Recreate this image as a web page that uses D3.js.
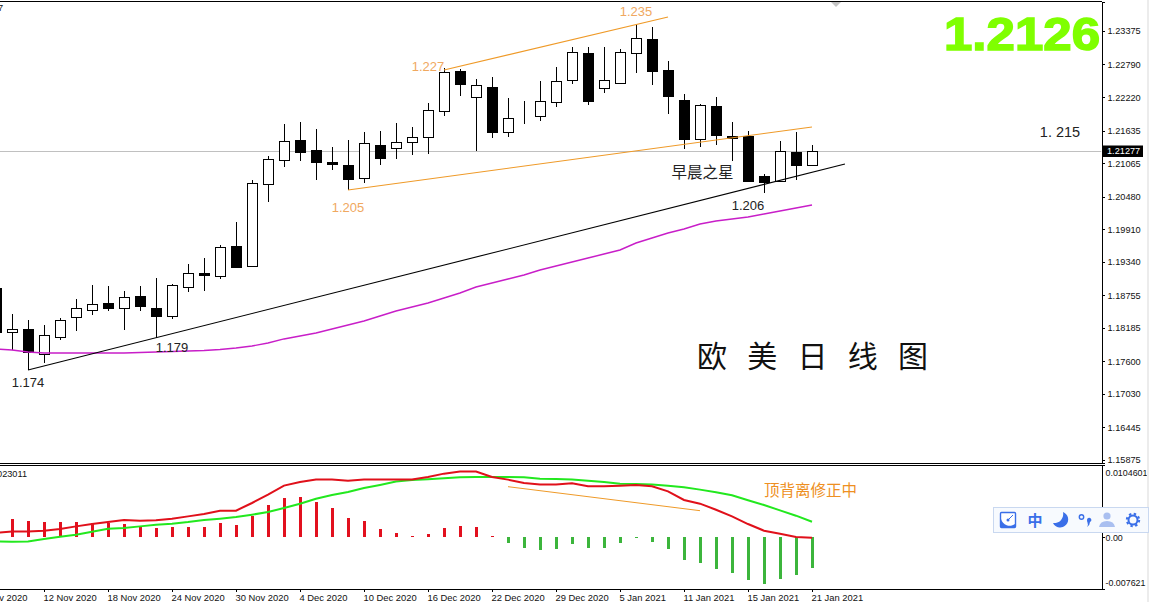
<!DOCTYPE html>
<html><head><meta charset="utf-8">
<script src="https://cdn.jsdelivr.net/npm/d3@7/dist/d3.min.js"></script>
<style>
html,body{margin:0;padding:0;background:#fff;overflow:hidden}
svg{display:block}
text{font-family:"Liberation Sans",Arial,sans-serif}
.cjk{font-family:"Noto Sans CJK SC","Noto Sans",sans-serif}
</style></head><body><svg id="c" width="1149" height="602"></svg>
<script>
const dates=["6 Nov 2020","9 Nov 2020","10 Nov 2020","11 Nov 2020","12 Nov 2020","13 Nov 2020","16 Nov 2020","17 Nov 2020","18 Nov 2020","19 Nov 2020","20 Nov 2020","23 Nov 2020","24 Nov 2020","25 Nov 2020","26 Nov 2020","27 Nov 2020","30 Nov 2020","1 Dec 2020","2 Dec 2020","3 Dec 2020","4 Dec 2020","7 Dec 2020","8 Dec 2020","9 Dec 2020","10 Dec 2020","11 Dec 2020","14 Dec 2020","15 Dec 2020","16 Dec 2020","17 Dec 2020","18 Dec 2020","21 Dec 2020","22 Dec 2020","23 Dec 2020","24 Dec 2020","28 Dec 2020","29 Dec 2020","30 Dec 2020","31 Dec 2020","4 Jan 2021","5 Jan 2021","6 Jan 2021","7 Jan 2021","8 Jan 2021","11 Jan 2021","12 Jan 2021","13 Jan 2021","14 Jan 2021","15 Jan 2021","18 Jan 2021","19 Jan 2021","20 Jan 2021","21 Jan 2021"];
const opens=[1.18882,1.18113,1.18165,1.17728,1.18025,1.18375,1.18497,1.1862,1.18532,1.18742,1.18532,1.18392,1.18899,1.19144,1.19092,1.19616,1.19266,1.207,1.2112,1.21469,1.21295,1.21085,1.21033,1.20805,1.21382,1.2133,1.21434,1.21522,1.21977,1.22676,1.22221,1.22396,1.21609,1.2183,1.21889,1.22134,1.22518,1.2299,1.22378,1.22466,1.2299,1.23235,1.22693,1.22169,1.21487,1.22064,1.21539,1.21539,1.2084,1.20753,1.2126,1.21033];
const closes=[1.18113,1.18165,1.17763,1.18061,1.18322,1.18532,1.18602,1.18532,1.18724,1.18567,1.18392,1.18934,1.19144,1.19109,1.19598,1.19249,1.20717,1.21137,1.21452,1.2126,1.21085,1.2105,1.20788,1.21417,1.21155,1.21434,1.21522,1.21994,1.22658,1.22448,1.22431,1.21609,1.21854,1.2183,1.22151,1.22501,1.23008,1.22151,1.22518,1.23008,1.23253,1.22676,1.22239,1.21487,1.22082,1.21557,1.21504,1.20753,1.20735,1.21277,1.21033,1.21277];
const highs=[1.18882,1.18427,1.18322,1.18235,1.18357,1.18689,1.18934,1.18917,1.1883,1.18917,1.19057,1.18952,1.19302,1.19406,1.19633,1.20036,1.2077,1.2119,1.21749,1.21784,1.21661,1.21347,1.21469,1.21609,1.21626,1.21767,1.21697,1.22116,1.22728,1.22711,1.22536,1.22571,1.22204,1.22151,1.22501,1.22746,1.23095,1.23095,1.23095,1.2306,1.235,1.2345,1.22851,1.22274,1.22099,1.22221,1.21784,1.21626,1.20875,1.21452,1.21609,1.21382];
const lows=[1.18113,1.17798,1.17448,1.17571,1.17973,1.1813,1.1841,1.1848,1.18148,1.1848,1.18008,1.1834,1.18812,1.1883,1.19039,1.19232,1.19266,1.20385,1.20998,1.21102,1.2077,1.20945,1.20595,1.20717,1.21033,1.21137,1.21207,1.21225,1.21889,1.22239,1.21277,1.21504,1.21522,1.21749,1.21802,1.22047,1.22448,1.22082,1.2229,1.22466,1.22641,1.22431,1.21924,1.21312,1.21347,1.21382,1.21102,1.20753,1.20543,1.20753,1.2077,1.21015];
const maLine=[1.17815,1.17798,1.17763,1.17746,1.17746,1.17746,1.17746,1.17746,1.17746,1.17754,1.17763,1.17772,1.1778,1.17789,1.17807,1.17833,1.17868,1.1792,1.17991,1.18043,1.18095,1.18165,1.18235,1.18305,1.18392,1.1848,1.1855,1.1862,1.18707,1.18794,1.18899,1.18969,1.19039,1.19109,1.19197,1.19266,1.19336,1.19406,1.19476,1.19546,1.19668,1.19756,1.19844,1.19913,1.20001,1.20053,1.20088,1.20123,1.20176,1.20228,1.2028,1.20333];
const macdHist=[0,.00263,.00234,.00219,.00219,.00219,.002,.002,.0019,.00161,.00127,.00136,.00146,.00146,.00204,.00175,.00307,.00467,.0057,.00584,.00511,.00423,.00277,.00234,.00117,.00058,.00005,.00044,.00131,.00161,.00146,.00005,-.00088,-.00161,-.0019,-.00175,-.00102,-.00161,-.00161,-.00088,-.00022,-.00073,-.00175,-.00336,-.0038,-.00467,-.00526,-.00628,-.00686,-.00613,-.00555,-.00453];
const macdRed=[.00058,.00078,.00078,.00088,.00112,.00151,.00185,.00214,.00244,.00234,.00239,.00263,.00297,.00331,.0038,.0038,.00492,.00614,.00745,.00799,.00833,.00833,.00818,.00833,.00833,.00833,.00833,.00872,.0092,.0095,.0095,.00872,.00833,.00784,.0076,.0076,.00779,.00735,.00735,.00745,.00755,.00735,.00662,.00536,.00482,.00394,.00297,.00185,.00088,.00044,-.00005,-.00015];
const macdGreen=[-.00068,-.00073,-.00068,-.00034,0,.00029,.00073,.00117,.00127,.00151,.00175,.0019,.00214,.00244,.00263,.00287,.00321,.0036,.00419,.00482,.00555,.00609,.00653,.00711,.00755,.00804,.00828,.00838,.00852,.00867,.00872,.00872,.00872,.00867,.00847,.00843,.00833,.00818,.00799,.00774,.00769,.0076,.00745,.00721,.00687,.00648,.00604,.00531,.00463,.00385,.00307,.00219];
const priceTicks=[1.23375,1.2279,1.2222,1.21635,1.21065,1.2048,1.1991,1.1934,1.18755,1.18185,1.176,1.1703,1.16445,1.15875];
const macdTicks=[0.0104601,0,-0.007621];
const macdTickLabels=["0.0104601","0.00","-0.007621"];
const lastPrice=1.21277;
const trendBlack=[[3,1.17448],[54.06,1.2105]];
const trendLower=[[23,1.20595],[52,1.21697]];
const trendUpper=[[29,1.22693],[43,1.2362]];
const macdTrend=[[33,.0073],[45,.0038]];
const notesPrice=[[3,1.17151,"1.174"],[12,1.17763,"1.179"],[23,1.20211,"1.205"],[28,1.22676,"1.227"],[41,1.23637,"1.235"],[48,1.20246,"1.206"],[67.5,1.21522,"1. 215"]];
const noteColors=["#222","#222","#f0a860","#f0a860","#f0a860","#222","#222"];
const noteSizes=[13,13,13,13,13,13,14.5];

const svg=d3.select("#c");
const L=0,R=1101.5,T=2,B=463,MT=465,MB=589;
const x=d3.scaleLinear([0,52],[-20,812]);
const y=d3.scaleLinear([1.23882,1.15822],[T,B]);
const ym=d3.scaleLinear([0.0104601,-0.007621],[MT,MB]);
const crisp=v=>Math.round(v)+.5;

svg.append("defs").append("clipPath").attr("id","cp").append("rect").attr("width",R).attr("height",602);
const g=svg.append("g").attr("clip-path","url(#cp)");

// current-price line
g.append("line").attr("x1",0).attr("x2",R).attr("y1",crisp(y(lastPrice))).attr("y2",crisp(y(lastPrice))).attr("stroke","#c0c0c0");

// candles
const cd=opens.map((o,i)=>({o,c:closes[i],h:highs[i],l:lows[i],i:i+1}));
const cg=g.append("g").attr("shape-rendering","crispEdges");
cg.selectAll(".w").data(cd).join("line").attr("class","w")
  .attr("x1",d=>x(d.i)+.5).attr("x2",d=>x(d.i)+.5)
  .attr("y1",d=>Math.round(y(d.h))).attr("y2",d=>Math.round(y(d.l))).attr("stroke","#000").attr("stroke-width",1.4);
cg.selectAll(".b").data(cd).join("rect").attr("class","b")
  .attr("x",d=>x(d.i)-4.5).attr("width",10)
  .attr("y",d=>crisp(y(Math.max(d.o,d.c)))).attr("height",d=>Math.max(0,Math.round(y(Math.min(d.o,d.c)))-Math.round(y(Math.max(d.o,d.c)))))
  .attr("fill",d=>d.c>=d.o?"#fff":"#000").attr("stroke","#000").attr("stroke-width",1.2);

const lineP=d3.line().x(d=>x(d[0])).y(d=>y(d[1]));
const lineM=d3.line().x(d=>x(d[0])).y(d=>ym(d[1]));
g.append("path").attr("d",d3.line().x((d,i)=>x(i+1)).y(d=>y(d))(maLine)).attr("fill","none").attr("stroke","#c81ec8").attr("stroke-width",1.4);
g.append("path").attr("d",lineP(trendBlack)).attr("fill","none").attr("stroke","#000").attr("stroke-width",1.1);
g.append("path").attr("d",lineP(trendLower)).attr("fill","none").attr("stroke","#ef9a28").attr("stroke-width",1.1);
g.append("path").attr("d",lineP(trendUpper)).attr("fill","none").attr("stroke","#ef9a28").attr("stroke-width",1.1);

// MACD panel
const hg=g.append("g").attr("shape-rendering","crispEdges");
hg.selectAll("rect").data(macdHist.map((v,i)=>({v,i:i+1})).filter(d=>d.v!==0)).join("rect")
  .attr("x",d=>x(d.i)-1).attr("width",3)
  .attr("y",d=>Math.min(ym(0),ym(d.v))).attr("height",d=>Math.max(.7,Math.abs(ym(d.v)-ym(0))))
  .attr("fill",d=>d.v>=0?"#e2101e":"#3cb53c");
const ml=d3.line().x((d,i)=>x(i+1)).y(d=>ym(d));
g.append("path").attr("d",ml(macdGreen)).attr("fill","none").attr("stroke","#22e81e").attr("stroke-width",2);
g.append("path").attr("d",ml(macdRed)).attr("fill","none").attr("stroke","#e0101a").attr("stroke-width",2);
g.append("path").attr("d",lineM(macdTrend)).attr("fill","none").attr("stroke","#ef9a28").attr("stroke-width",1);

// frame lines
const fr=svg.append("g").attr("stroke","#000").attr("shape-rendering","crispEdges");
fr.append("line").attr("x1",0).attr("x2",R).attr("y1",1.5).attr("y2",1.5);
fr.append("line").attr("x1",0).attr("x2",R).attr("y1",463.5).attr("y2",463.5);
fr.append("line").attr("x1",0).attr("x2",R).attr("y1",465.5).attr("y2",465.5);
fr.append("line").attr("x1",0).attr("x2",R).attr("y1",589.5).attr("y2",589.5);

// axes
const fsPrice=9.2, fsDate=9.4, fsMacd=8.9;
const ay=svg.append("g").attr("transform",`translate(${R},0)`).call(d3.axisRight(y).tickValues(priceTicks).tickSize(3).tickPadding(3).tickFormat(d3.format(".5f")));
const am=svg.append("g").attr("transform",`translate(${R},0)`).call(d3.axisRight(ym).tickValues(macdTicks).tickSize(3).tickPadding(1).tickFormat((d,i)=>macdTickLabels[i]));
am.selectAll("text").attr("dy",(d,i)=>[7+3,3.5,-7+3][i]);
const ax=svg.append("g").attr("transform",`translate(0,${MB})`).call(d3.axisBottom(x).tickValues(d3.range(0,53,4)).tickSize(3).tickPadding(2).tickFormat(i=>dates[i]));
ax.selectAll("text").attr("text-anchor","start").attr("dx",-1).attr("dy","0.72em");
[[ay,fsPrice],[am,fsMacd],[ax,fsDate]].forEach(([a,s])=>{a.selectAll("text").attr("font-size",s).attr("fill","#111").style("font-family",'"Liberation Sans",Arial,sans-serif');
  a.selectAll("path,line").attr("stroke","#000").attr("shape-rendering","crispEdges");});
ax.select(".domain").remove();

// last price flag
svg.append("rect").attr("x",1103).attr("y",y(lastPrice)-5.5).attr("width",40).attr("height",11.5).attr("fill","#000");
svg.append("text").attr("x",1107).attr("y",y(lastPrice)+3.5).attr("font-size",fsPrice).attr("fill","#fff").text(d3.format(".5f")(lastPrice));

// annotations
const an=svg.append("g");
an.selectAll("text").data(notesPrice).join("text").attr("x",d=>x(d[0])).attr("y",d=>y(d[1])).attr("text-anchor","middle")
  .attr("font-size",(d,i)=>noteSizes[i]).attr("fill",(d,i)=>noteColors[i]).text(d=>d[2]);
an.append("text").attr("class","cjk").attr("x",x(45.15)).attr("y",y(1.20805)).attr("text-anchor","middle").attr("font-size",15.5).attr("fill","#222").text("早晨之星");
an.append("text").attr("class","cjk").attr("x",x(51.9)).attr("y",ym(.006)).attr("text-anchor","middle").attr("font-size",15.5).attr("fill","#ee8f22").text("顶背离修正中");
an.append("text").attr("class","cjk").attr("x",697).attr("y",367).attr("font-size",30).attr("word-spacing",13.5).attr("fill","#111").text("欧 美 日 线 图");
an.append("text").attr("x",944).attr("y",49.5).attr("textLength",156).attr("lengthAdjust","spacingAndGlyphs").attr("font-size",46.5).attr("font-weight","bold").attr("fill","#7fff00").attr("stroke","#7fff00").attr("stroke-width",1.5).text("1.2126");
an.append("text").attr("x",27).attr("y",477).attr("text-anchor","end").attr("font-size",fsPrice).attr("fill","#111").text("0.023011");
an.append("text").attr("x",3).attr("y",11).attr("text-anchor","end").attr("font-size",fsPrice).attr("fill","#111").text("7");
svg.append("path").attr("d",d3.line()([[831,2],[841,2],[836,7]])+"Z").attr("fill","#c4c4c4");

// right strip
svg.append("rect").attr("x",1147).attr("y",0).attr("width",2).attr("height",602).attr("fill","#ececec");

// input-method toolbar
const tb=svg.append("g");
tb.append("rect").attr("x",993.5).attr("y",507.5).attr("width",155).attr("height",25).attr("fill","#f7fafe").attr("stroke","#c9d8f0");
const blue="#3a6fe8";
tb.append("rect").attr("x",1000.5).attr("y",512.5).attr("width",15).attr("height",15).attr("fill","#fff").attr("stroke",blue).attr("stroke-width",1.4).attr("rx",1);
tb.append("path").attr("d","M1001 519 L1001 527 L1015 527 L1015 524 A9 9 0 0 1 1001 519Z").attr("fill",blue);
tb.append("circle").attr("cx",1008).attr("cy",520).attr("r",1.5).attr("fill",blue);
tb.append("line").attr("x1",1008).attr("y1",520).attr("x2",1013).attr("y2",515).attr("stroke",blue);
tb.append("text").attr("class","cjk").attr("x",1035).attr("y",525.5).attr("text-anchor","middle").attr("font-size",15).attr("font-weight","bold").attr("fill",blue).text("中");
tb.append("path").attr("d","M1063 512 A8 8 0 1 1 1053 523 A9 9 0 0 0 1063 512Z").attr("fill",blue);
tb.append("circle").attr("cx",1081.5).attr("cy",517).attr("r",2.2).attr("fill","none").attr("stroke",blue).attr("stroke-width",1.4);
tb.append("path").attr("d","M1087 520 a2.2 2.2 0 1 1 3 2 q0 3 -3 5 q1.5 -2.5 0.5 -4.5 q-0.5 -1 -0.5 -2.5Z").attr("fill",blue);
tb.append("circle").attr("cx",1107).attr("cy",516).attr("r",3.6).attr("fill","#a9bff0");
tb.append("path").attr("d","M1099 527 q1 -6 8 -6 q7 0 8 6Z").attr("fill","#a9bff0");
tb.append("circle").attr("cx",1133).attr("cy",520).attr("r",4.5).attr("fill","none").attr("stroke",blue).attr("stroke-width",2);
tb.append("circle").attr("cx",1133).attr("cy",520).attr("r",6.2).attr("fill","none").attr("stroke",blue).attr("stroke-width",2).attr("stroke-dasharray","2.4 2.47");
</script></body></html>
